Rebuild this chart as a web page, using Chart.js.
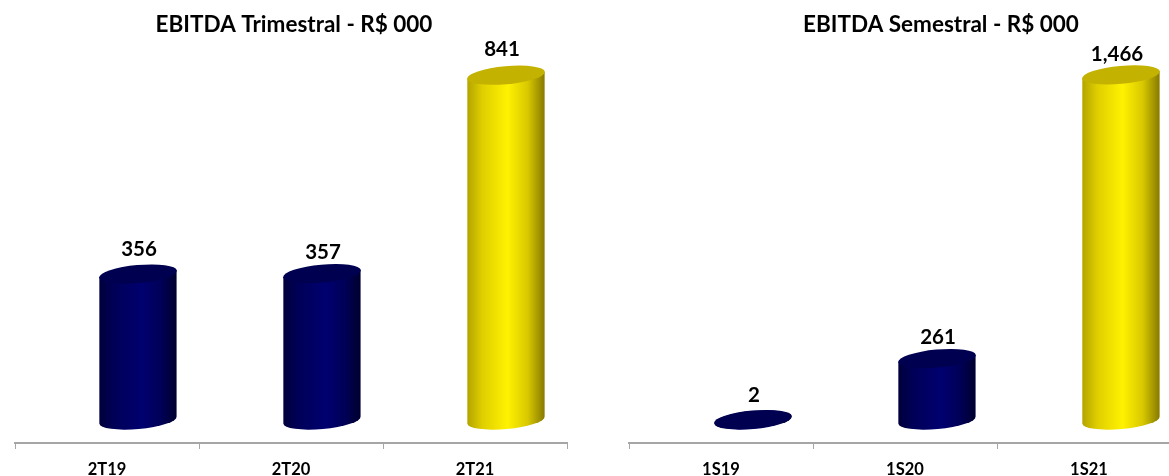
<!DOCTYPE html>
<html><head><meta charset="utf-8">
<style>
html,body{margin:0;padding:0;width:1169px;height:476px;overflow:hidden;background:#fff}
.box{position:absolute;top:0;height:476px;width:582px}
canvas{display:block}
</style>
<script src="https://cdn.jsdelivr.net/npm/chart.js@4"></script>
</head><body>
<div class="box" style="left:0"><canvas id="c1" width="582" height="476"></canvas></div>
<div class="box" style="left:614px"><canvas id="c2" width="582" height="476"></canvas></div>
<script>
const quarterLabels = ['2T19','2T20','2T21'];
const quarterValues = [356,357,841];
const semesterLabels = ['1S19','1S20','1S21'];
const semesterValues = [2,261,1466];
const quarterTitle = 'EBITDA Trimestral - R$ 000';
const semesterTitle = 'EBITDA Semestral - R$ 000';
const quarterMax = 983;
const semesterMax = 1712;
const seriesKinds = ['navy','navy','yellow'];

const FONT = 'Lato, Carlito, Calibri, sans-serif';
const DEPTH_Y = 23, BAR_FRAC = 0.424, TILT = -5.2*Math.PI/180, RY = 9;
const PALETTE = {
  navy:{labelShift:1,stops:[[0,'#b9bcd6'],[0.012,'#00003c'],[0.2,'#000058'],[0.55,'#000070'],[0.8,'#000056'],[0.985,'#00002f'],[1,'#b9bcd6']],top:'#000050'},
  yellow:{labelShift:-4,stops:[[0,'#e8e2a0'],[0.012,'#b5a600'],[0.2,'#e0cf00'],[0.52,'#fff200'],[0.78,'#d8c800'],[0.985,'#8a7d00'],[1,'#d8d2a0']],top:'#c4b200'}
};
function gradientFor(ctx,left,right,kind){
  const g = ctx.createLinearGradient(left,0,right,0);
  PALETTE[kind].stops.forEach(s=>g.addColorStop(s[0],s[1]));
  return g;
}
function cylinderPlugin(){
  return {
    id:'cylinder',
    afterLayout(chart,args,o){ chart.titleBlock.left += o.titleShift; chart.titleBlock.right += o.titleShift; },
    beforeDatasetsDraw(chart,args,o){
      const c = chart.ctx, meta = chart.getDatasetMeta(0);
      c.save();
      c.translate(o.depthX,-DEPTH_Y);
      c.beginPath();
      meta.data.forEach(b=>{
        const rx=b.width/2, sk=rx*Math.tan(-TILT);
        c.moveTo(b.x-rx,b.y+sk); c.lineTo(b.x+rx,b.y-sk);
        c.lineTo(b.x+rx,b.base-sk); c.lineTo(b.x-rx,b.base+sk); c.closePath();
      });
      c.clip();
    },
    afterDatasetsDraw(chart,args,o){
      const c = chart.ctx, meta = chart.getDatasetMeta(0);
      c.restore();
      c.save();
      c.translate(o.depthX,-DEPTH_Y);
      meta.data.forEach((b,i)=>{
        const kind = seriesKinds[i], rx=b.width/2, sk=rx*Math.tan(-TILT);
        const grad = gradientFor(c,b.x-rx,b.x+rx,kind);
        c.fillStyle = grad;
        if(b.base-b.y>12){
          c.beginPath();
          c.moveTo(b.x-rx,b.base-6); c.lineTo(b.x+rx,b.base-6);
          c.lineTo(b.x+rx,b.base-sk); c.lineTo(b.x-rx,b.base+sk); c.closePath();
          c.fill();
          c.beginPath();
          c.moveTo(b.x-rx,b.y+sk); c.lineTo(b.x+rx,b.y-sk);
          c.lineTo(b.x+rx,b.y+6); c.lineTo(b.x-rx,b.y+6); c.closePath();
          c.fill();
        }
        c.beginPath();
        c.ellipse(b.x,b.base,rx,RY,TILT,0,Math.PI*2);
        c.fill();
        c.beginPath();
        c.ellipse(b.x,b.y,rx,RY,TILT,0,Math.PI*2);
        c.fillStyle = PALETTE[kind].top;
        c.fill();
        c.fillStyle='#000';
        c.font='bold 20.5px '+FONT;
        c.textAlign='center'; c.textBaseline='middle';
        const v = chart.data.datasets[0].data[i];
        c.fillText(v.toLocaleString('en-US'),b.x+PALETTE[kind].labelShift,b.y-25+o.labelNudge[i]);
      });
      c.restore();
    }
  };
}
function build(id,labels,values,title,yMax,titleShift,depthX,labelNudge){
  new Chart(document.getElementById(id),{
    type:'bar',
    data:{labels,datasets:[{data:values,clip:false,borderWidth:0,categoryPercentage:1,barPercentage:BAR_FRAC,
      backgroundColor(ctx){
        const x = ctx.chart.scales.x, i = ctx.dataIndex;
        if(i===undefined || !x) return '#000';
        const half = 184*BAR_FRAC/2, m = x.getPixelForValue(i);
        if(!isFinite(m)) return '#000';
        return gradientFor(ctx.chart.ctx,m-half,m+half,seriesKinds[i]);
      }}]},
    plugins:[cylinderPlugin()],
    options:{
      responsive:false,animation:false,
      layout:{padding:{left:15,right:15,top:0,bottom:0}},
      plugins:{
        legend:{display:false},tooltip:{enabled:false},
        cylinder:{titleShift,depthX,labelNudge},
        title:{display:true,text:title,color:'#000',font:{family:FONT,size:22.5,weight:'bold',lineHeight:1.2},padding:{top:11,bottom:2}}
      },
      scales:{
        x:{offset:true,
          afterFit(s){ s.height=33; },
          grid:{display:true,drawOnChartArea:false,drawTicks:true,tickLength:6,color:'#a6a6a6',lineWidth:1,offset:true},
          border:{display:true,color:'#a6a6a6',width:2},
          ticks:{color:'#000',padding:11,maxRotation:0,font:{family:FONT,size:16.5,weight:'bold',lineHeight:1.2}}},
        y:{display:false,min:0,max:yMax}
      }
    }
  });
}
build('c1',quarterLabels,quarterValues,quarterTitle,quarterMax,3,31,[0,4,-1]);
build('c2',semesterLabels,semesterValues,semesterTitle,semesterMax,36,32,[1,4,4]);
</script>
</body></html>
